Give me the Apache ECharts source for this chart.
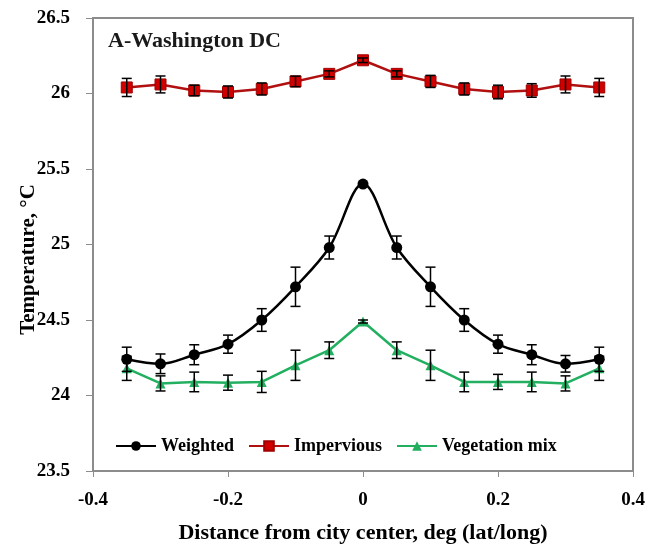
<!DOCTYPE html>
<html>
<head>
<meta charset="utf-8">
<script src="https://cdn.jsdelivr.net/npm/echarts@6/dist/echarts.min.js"></script>
<style>
  html, body { margin: 0; padding: 0; background: #fff; }
  #chart { width: 663px; height: 547px; }
</style>
</head>
<body>
<div id="chart"></div>
<script>
// distance from city center (deg)
const distance = [-0.35, -0.3, -0.25, -0.2, -0.15, -0.1, -0.05, 0, 0.05, 0.1, 0.15, 0.2, 0.25, 0.3, 0.35];

// mean temperatures
const weighted   = [24.24, 24.21, 24.27, 24.34, 24.50, 24.72, 24.98, 25.40, 24.98, 24.72, 24.50, 24.34, 24.27, 24.21, 24.24];
const impervious = [26.04, 26.06, 26.02, 26.01, 26.03, 26.08, 26.13, 26.22, 26.13, 26.08, 26.03, 26.01, 26.02, 26.06, 26.04];
const vegetation = [24.18, 24.08, 24.09, 24.085, 24.09, 24.20, 24.30, 24.49, 24.30, 24.20, 24.09, 24.09, 24.09, 24.08, 24.18];

// error (+/-)
const weightedErr   = [0.08, 0.065, 0.066, 0.06, 0.075, 0.13, 0.076, 0.01, 0.076, 0.13, 0.075, 0.06, 0.066, 0.055, 0.08];
const imperviousErr = [0.06, 0.056, 0.035, 0.04, 0.04, 0.035, 0.02, 0.015, 0.02, 0.04, 0.04, 0.045, 0.045, 0.056, 0.06];
const vegetationErr = [0.08, 0.05, 0.065, 0.05, 0.07, 0.1, 0.055, 0.01, 0.055, 0.1, 0.065, 0.05, 0.065, 0.05, 0.08];

const serif = '"Liberation Serif", "DejaVu Serif", serif';

function pairs(ys) {
    return distance.map((x, i) => [x, ys[i]]);
}

function errData(ys, errs) {
    return distance.map((x, i) => [x, ys[i] - errs[i], ys[i] + errs[i]]);
}

// error bar with caps
function renderErr(params, api) {
    const lo = api.coord([api.value(0), api.value(1)]);
    const hi = api.coord([api.value(0), api.value(2)]);
    const w = 5;
    const style = { stroke: '#000', lineWidth: 1.5 };
    return {
        type: 'group',
        children: [
            { type: 'line', shape: { x1: lo[0], y1: lo[1], x2: hi[0], y2: hi[1] }, style: style },
            { type: 'line', shape: { x1: lo[0] - w, y1: lo[1], x2: lo[0] + w, y2: lo[1] }, style: style },
            { type: 'line', shape: { x1: hi[0] - w, y1: hi[1], x2: hi[0] + w, y2: hi[1] }, style: style }
        ]
    };
}

function errSeries(ys, errs) {
    return {
        type: 'custom',
        renderItem: renderErr,
        data: errData(ys, errs),
        encode: { x: 0, y: [1, 2] },
        z: 5,
        silent: true
    };
}

const chart = echarts.init(document.getElementById('chart'));

const option = {
    animation: false,
    backgroundColor: '#fff',
    title: {
        text: 'A-Washington DC',
        left: 108,
        top: 30,
        padding: 0,
        textStyle: { fontFamily: serif, fontSize: 22, fontWeight: 'bold', color: '#1a1a1a' }
    },
    legend: {
        left: 110,
        top: 432,
        itemWidth: 40,
        itemHeight: 12,
        itemGap: 14,
        textStyle: { fontFamily: serif, fontSize: 18, fontWeight: 'bold', color: '#000' },
        data: ['Weighted', 'Impervious', 'Vegetation mix']
    },
    grid: {
        left: 93,
        right: 30,
        top: 18,
        bottom: 76,
        outerBoundsMode: 'none',
        show: true,
        borderColor: '#8c8c8c',
        borderWidth: 2
    },
    xAxis: {
        type: 'value',
        min: -0.4,
        max: 0.4,
        interval: 0.2,
        name: 'Distance from city center, deg (lat/long)',
        nameLocation: 'middle',
        nameGap: 51,
        nameMoveOverlap: false,
        nameTextStyle: { fontFamily: serif, fontSize: 22, fontWeight: 'bold', color: '#000' },
        axisLine: { onZero: false, lineStyle: { color: '#8c8c8c', width: 2 } },
        axisTick: { show: true, inside: false, length: 6, lineStyle: { color: '#8c8c8c' } },
        axisLabel: { fontFamily: serif, fontSize: 19, fontWeight: 'bold', color: '#000', margin: 20 },
        splitLine: { show: false }
    },
    yAxis: {
        type: 'value',
        min: 23.5,
        max: 26.5,
        interval: 0.5,
        name: 'Temperature, °C',
        nameLocation: 'middle',
        nameGap: 54,
        nameMoveOverlap: false,
        nameTextStyle: { fontFamily: serif, fontSize: 21, fontWeight: 'bold', color: '#000',
            backgroundColor: '#fff', padding: [0, 30, 0, 0] },
        axisLine: { onZero: false, lineStyle: { color: '#8c8c8c', width: 2 } },
        axisTick: { show: true, inside: false, length: 7, lineStyle: { color: '#8c8c8c' } },
        axisLabel: { fontFamily: serif, fontSize: 19, fontWeight: 'bold', color: '#000', margin: 23 },
        splitLine: { show: false }
    },
    series: [
        {
            name: 'Weighted',
            type: 'line',
            data: pairs(weighted),
            smooth: 0.35,
            symbol: 'circle',
            symbolSize: 11,
            lineStyle: { color: '#000', width: 2.5 },
            itemStyle: { color: '#000' },
            z: 3
        },
        {
            name: 'Impervious',
            type: 'line',
            data: pairs(impervious),
            symbol: 'rect',
            symbolSize: 11,
            lineStyle: { color: '#b01010', width: 2.5 },
            itemStyle: { color: '#d00000', borderColor: '#a00000', borderWidth: 1 },
            z: 3
        },
        {
            name: 'Vegetation mix',
            type: 'line',
            data: pairs(vegetation),
            symbol: 'triangle',
            symbolSize: 10,
            lineStyle: { color: '#22b060', width: 2.5 },
            itemStyle: { color: '#22b060' },
            z: 3
        },
        errSeries(weighted, weightedErr),
        errSeries(impervious, imperviousErr),
        errSeries(vegetation, vegetationErr)
    ]
};

chart.setOption(option);
</script>
</body>
</html>
